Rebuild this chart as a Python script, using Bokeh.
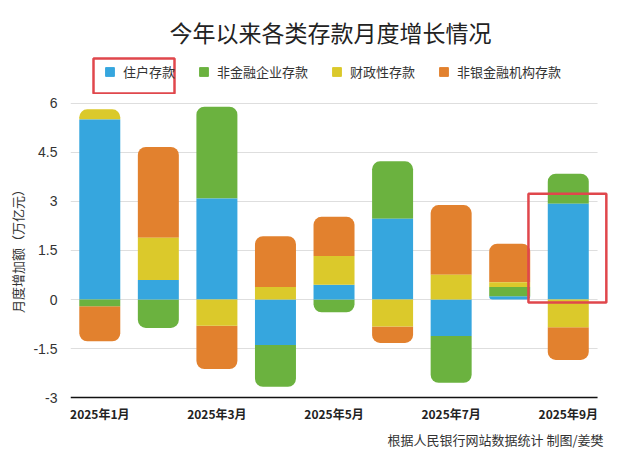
from bokeh.plotting import figure
from bokeh.models import (ColumnDataSource, FixedTicker, Legend, LegendItem,
                          Label, BoxAnnotation, Range1d)
from bokeh.layouts import column
from bokeh.embed import file_html
from bokeh.resources import INLINE

# ---------------- data (万亿元) ----------------
months = ["2025年1月", "2025年2月", "2025年3月", "2025年4月", "2025年5月",
          "2025年6月", "2025年7月", "2025年8月", "2025年9月"]
series_names = ["住户存款", "非金融企业存款", "财政性存款", "非银金融机构存款"]
household = [5.51, 0.60, 3.09, -1.39, 0.45, 2.47, -1.12, 0.10, 2.93]
nonfin = [-0.21, -0.87, 2.81, -1.28, -0.39, 1.76, -1.43, 0.28, 0.92]
fiscal = [0.31, 1.29, -0.80, 0.38, 0.88, -0.83, 0.76, 0.15, -0.85]
nonbank = [-1.07, 2.78, -1.33, 1.56, 1.20, -0.50, 2.13, 1.18, -1.00]
x_tick_positions = [0, 2, 4, 6, 8]
y_ticks = [-3, -1.5, 0, 1.5, 3, 4.5, 6]
y_tick_labels = ["-3", "-1.5", "0", "1.5", "3", "4.5", "6"]
title_text = "今年以来各类存款月度增长情况"
y_label = "月度增加额（万亿元）"
source_text = "根据人民银行网站数据统计 制图/姜樊"

colors = ["#36A6DE", "#6BB23F", "#DBC92B", "#E2812E"]
all_series = [household, nonfin, fiscal, nonbank]
FONT = "Noto Sans CJK SC"
RED = "#E0474C"

W = 624
BL, BR = 70, 15            # left / right borders shared by all panels
PX_PER_X = (W - BL - BR) / 9.204
TOP_H = 94
MAIN_H = 331
BOT_H = 448 - TOP_H - MAIN_H

x_range = Range1d(-0.5, 8.704)


def fx(px):
    """pixel x -> data x (for header/footer annotations)"""
    return -0.5 + (px - BL) / PX_PER_X


def bare(fig):
    fig.outline_line_color = None
    fig.xgrid.grid_line_color = None
    fig.ygrid.grid_line_color = None


# ---------------- header: title + legend ----------------
top = figure(width=W, height=TOP_H, output_backend="svg", toolbar_location=None,
             x_range=x_range, y_range=Range1d(TOP_H, 0),
             min_border_left=BL, min_border_right=BR, min_border_top=0,
             min_border_bottom=0, x_axis_type=None, y_axis_type=None)
bare(top)
top.add_layout(Label(x=fx(330), y=31, text=title_text, text_align="center",
                     text_baseline="middle", text_font=FONT,
                     text_font_size="23px", text_color="#222222"))
legend_items = []
for i, name in enumerate(series_names):
    r = top.quad(left=[-50], right=[-49], top=[-50], bottom=[-49], color=colors[i])
    legend_items.append(LegendItem(label=name, renderers=[r]))
legend = Legend(items=legend_items, orientation="horizontal", location=(34, 13),
                glyph_width=11, glyph_height=11, label_height=14, label_standoff=8,
                spacing=23, padding=0, margin=0, border_line_color=None,
                background_fill_alpha=0, label_text_font=FONT,
                label_text_font_size="13px", label_text_color="#333333")
top.add_layout(legend, "center")
top.add_layout(BoxAnnotation(left=fx(93), right=fx(174), top=58, bottom=93,
                             fill_alpha=0, line_color=RED, line_alpha=1,
                             line_width=2.5))

# ---------------- main chart ----------------
p = figure(width=W, height=MAIN_H, output_backend="svg", toolbar_location=None,
           x_range=x_range, y_range=Range1d(-3.061, 6.214),
           min_border_left=BL, min_border_right=BR, min_border_top=2,
           min_border_bottom=26)
bare(p)

p.segment(x0=[-0.5] * (len(y_ticks) - 1), x1=[8.5] * (len(y_ticks) - 1),
          y0=y_ticks[1:], y1=y_ticks[1:], line_color="#dedede", line_width=1)

segs = {k: dict(left=[], right=[], top=[], bottom=[], color=[]) for k in ("top", "bottom", "none", "both")}
bar_w = 0.7
for j in range(len(months)):
    pos = 0.0
    neg = 0.0
    items = []
    for i, s in enumerate(all_series):
        v = s[j]
        if v >= 0:
            b, t = pos, pos + v
            pos = t
        else:
            t, b = neg, neg + v
            neg = b
        items.append((i, b, t))
    max_top = max(t for _, _, t in items)
    min_bot = min(b for _, b, _ in items)
    for i, b, t in items:
        is_top = abs(t - max_top) < 1e-9
        is_bot = abs(b - min_bot) < 1e-9
        key = "both" if (is_top and is_bot) else "top" if is_top else "bottom" if is_bot else "none"
        d = segs[key]
        d["left"].append(j - bar_w / 2)
        d["right"].append(j + bar_w / 2)
        d["top"].append(t)
        d["bottom"].append(b)
        d["color"].append(colors[i])

radii = {"top": (8, 8, 0, 0), "bottom": (0, 0, 8, 8), "none": 0, "both": 8}
for key, d in segs.items():
    if not d["left"]:
        continue
    p.quad(left="left", right="right", top="top", bottom="bottom", color="color",
           line_color=None, border_radius=radii[key], source=ColumnDataSource(d))

p.segment(x0=[-0.5], x1=[8.5], y0=[y_ticks[0]], y1=[y_ticks[0]],
          line_color="#111111", line_width=1.5)

p.xaxis.ticker = FixedTicker(ticks=x_tick_positions)
p.xaxis.major_label_overrides = {k: months[k] for k in x_tick_positions}
p.xaxis.axis_line_color = None
p.xaxis.major_tick_line_color = None
p.xaxis.major_tick_out = 0
p.xaxis.major_tick_in = 0
p.xaxis.minor_tick_line_color = None
p.xaxis.minor_tick_out = 0
p.xaxis.major_label_standoff = 5
p.xaxis.major_label_text_font = FONT
p.xaxis.major_label_text_font_size = "12px"
p.xaxis.major_label_text_color = "#222222"
p.xaxis.major_label_text_font_style = "bold"

p.yaxis.ticker = FixedTicker(ticks=y_ticks)
p.yaxis.major_label_overrides = {t: l for t, l in zip(y_ticks, y_tick_labels)}
p.yaxis.axis_line_color = None
p.yaxis.major_tick_line_color = None
p.yaxis.major_tick_out = 0
p.yaxis.major_tick_in = 0
p.yaxis.minor_tick_line_color = None
p.yaxis.minor_tick_out = 0
p.yaxis.major_label_standoff = 13
p.yaxis.major_label_text_font = "Liberation Sans"
p.yaxis.major_label_text_font_size = "14px"
p.yaxis.major_label_text_color = "#333333"
p.yaxis.axis_label = y_label
p.yaxis.axis_label_text_font = FONT
p.yaxis.axis_label_text_font_size = "13px"
p.yaxis.axis_label_text_font_style = "normal"
p.yaxis.axis_label_text_color = "#333333"
p.yaxis.axis_label_standoff = 3

p.add_layout(BoxAnnotation(left=7.32, right=8.65, bottom=-0.09, top=3.24,
                           fill_alpha=0, line_color=RED, line_alpha=1,
                           line_width=2.5))

# ---------------- footer: source ----------------
bot = figure(width=W, height=BOT_H, output_backend="svg", toolbar_location=None,
             x_range=x_range, y_range=Range1d(BOT_H, 0),
             min_border_left=BL, min_border_right=BR, min_border_top=0,
             min_border_bottom=0, x_axis_type=None, y_axis_type=None)
bare(bot)
bot.add_layout(Label(x=fx(495), y=14, text=source_text, text_align="center",
                     text_baseline="middle", text_font=FONT,
                     text_font_size="13px", text_color="#333333"))

layout = column(top, p, bot, spacing=0)
open("out.html", "w").write(file_html(layout, INLINE))
